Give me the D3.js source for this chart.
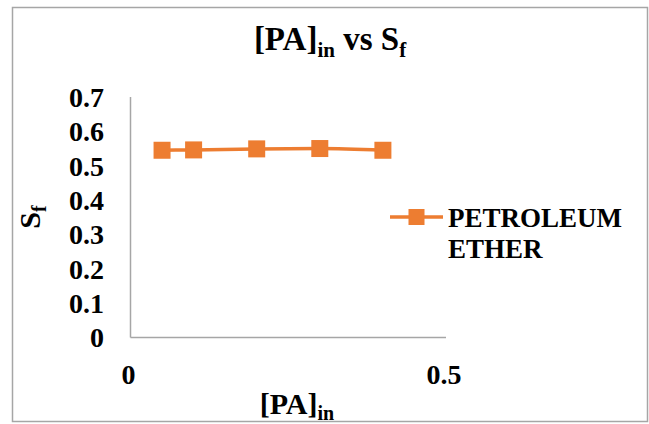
<!DOCTYPE html>
<html>
<head>
<meta charset="utf-8">
<script src="https://cdn.jsdelivr.net/npm/d3@7/dist/d3.min.js"></script>
<style>
  html, body { margin: 0; padding: 0; background: #fff; }
  svg { display: block; }
</style>
</head>
<body>
<svg id="chart" width="649" height="424" font-family="'Liberation Serif', 'Times New Roman', serif" font-weight="bold"></svg>
<script>
// Petroleum ether series: initial PA concentration vs Sf
const paIn = [0.05, 0.1, 0.2, 0.3, 0.4];
const sf = [0.545, 0.546, 0.549, 0.550, 0.545];
const xTicks = [0, 0.5];
const yTicks = [0, 0.1, 0.2, 0.3, 0.4, 0.5, 0.6, 0.7];
const seriesName = ["PETROLEUM", "ETHER"];

const svg = d3.select("#chart");
const orange = "#ED7D31";

// chart frame
svg.append("rect")
  .attr("x", 12.5).attr("y", 7.5)
  .attr("width", 635).attr("height", 414)
  .attr("fill", "#fff").attr("stroke", "#a6a6a6").attr("stroke-width", 1.5);

const x = d3.scaleLinear().domain([0, 0.5]).range([130.5, 446]);
const y = d3.scaleLinear().domain([0, 0.7]).range([337.5, 97]);

// axes lines
svg.append("line").attr("x1", x(0)).attr("x2", x(0)).attr("y1", y(0.7)).attr("y2", y(0))
  .attr("stroke", "#a6a6a6").attr("stroke-width", 1.5);
svg.append("line").attr("x1", x(0)).attr("x2", x(0.5)).attr("y1", y(0)).attr("y2", y(0))
  .attr("stroke", "#a6a6a6").attr("stroke-width", 1.5);

// y tick labels
svg.append("g").selectAll("text").data(yTicks).join("text")
  .attr("x", 104).attr("y", d => y(d))
  .attr("dy", "0.35em")
  .attr("text-anchor", "end")
  .attr("font-size", 28)
  .text(d => d3.format("")(d));

// x tick labels
svg.append("g").selectAll("text").data(xTicks).join("text")
  .attr("x", d => x(d) - 2).attr("y", 374)
  .attr("dy", "0.35em")
  .attr("text-anchor", "middle")
  .attr("font-size", 28)
  .text(d => d3.format("")(d));

// title
const title = svg.append("text").attr("x", 330).attr("y", 50)
  .attr("text-anchor", "middle").attr("font-size", 33);
title.append("tspan").text("[PA]");
title.append("tspan").attr("font-size", 21).attr("dy", 7).text("in");
title.append("tspan").attr("dy", -7).text(" vs S");
title.append("tspan").attr("font-size", 21).attr("dy", 7).text("f");

// x axis title
const xt = svg.append("text").attr("x", 297).attr("y", 414)
  .attr("text-anchor", "middle").attr("font-size", 30);
xt.append("tspan").text("[PA]");
xt.append("tspan").attr("font-size", 20).attr("dy", 6).text("in");

// y axis title
const yt = svg.append("text")
  .attr("transform", "translate(40,217) rotate(-90)")
  .attr("text-anchor", "middle").attr("font-size", 30);
yt.append("tspan").text("S");
yt.append("tspan").attr("font-size", 20).attr("dy", 6).text("f");

// series line and markers
const line = d3.line().x((d, i) => x(paIn[i])).y(d => y(d)).curve(d3.curveMonotoneX);
svg.append("path").datum(sf).attr("d", line)
  .attr("fill", "none").attr("stroke", orange).attr("stroke-width", 3.5);
const ms = 17;
svg.append("g").selectAll("rect").data(sf).join("rect")
  .attr("x", (d, i) => x(paIn[i]) - ms / 2).attr("y", d => y(d) - ms / 2)
  .attr("width", ms).attr("height", ms).attr("fill", orange);

// legend
const lg = svg.append("g");
lg.append("line").attr("x1", 390).attr("x2", 443).attr("y1", 217).attr("y2", 217)
  .attr("stroke", orange).attr("stroke-width", 3.5);
lg.append("rect").attr("x", 416.5 - 8).attr("y", 217 - 8).attr("width", 16).attr("height", 16).attr("fill", orange);
lg.selectAll("text").data(seriesName).join("text")
  .attr("x", 448).attr("y", (d, i) => 227 + i * 31)
  .attr("font-size", 27)
  .text(d => d);
</script>
</body>
</html>
